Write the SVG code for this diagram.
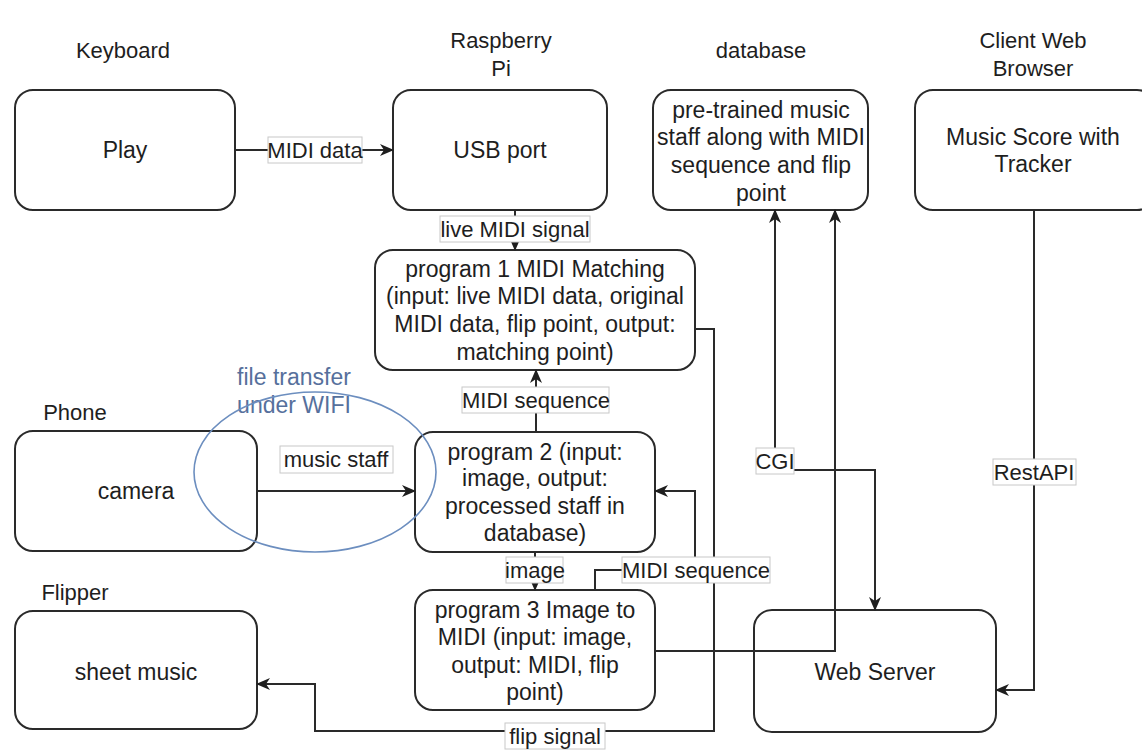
<svg xmlns="http://www.w3.org/2000/svg" width="1142" height="750" viewBox="0 0 1142 750">
<defs>
<style>
.box{fill:#fff;stroke:#2a2a2a;stroke-width:2}
.t{font-family:"Liberation Sans",Arial,sans-serif;font-size:23px;fill:#1e1e1e;text-anchor:middle}
.h{font-family:"Liberation Sans",Arial,sans-serif;font-size:22px;fill:#1e1e1e;text-anchor:middle}
.lb{font-family:"Liberation Sans",Arial,sans-serif;font-size:22px;fill:#1e1e1e;text-anchor:middle}
.lbg{fill:#fff;stroke:#c8c8c8;stroke-width:1}
.e{fill:none;stroke:#2a2a2a;stroke-width:2}
.w{font-family:"Liberation Sans",Arial,sans-serif;font-size:23px;fill:#56709c;text-anchor:middle}
</style>
<marker id="ah" viewBox="0 0 14 12" refX="13" refY="6" markerWidth="14" markerHeight="12" markerUnits="userSpaceOnUse" orient="auto">
<path d="M0,0 L14,6 L0,12 L4,6 z" fill="#1e1e1e"/>
</marker>
<marker id="ahs" viewBox="0 0 14 12" refX="13" refY="6" markerWidth="14" markerHeight="12" markerUnits="userSpaceOnUse" orient="auto-start-reverse">
<path d="M0,0 L14,6 L0,12 L4,6 z" fill="#1e1e1e"/>
</marker>
</defs>
<rect width="1142" height="750" fill="#fff"/>

<g id="headers">
<text class="h" x="123" y="58">Keyboard</text>
<text class="h" x="501" y="48">Raspberry</text>
<text class="h" x="501" y="76">Pi</text>
<text class="h" x="761" y="58">database</text>
<text class="h" x="1033" y="48">Client Web</text>
<text class="h" x="1033" y="76">Browser</text>
<text class="h" x="75" y="420">Phone</text>
<text class="h" x="75" y="600">Flipper</text>
</g>

<g id="node-play">
<rect class="box" x="15" y="90" width="220" height="120" rx="18"/>
<text class="t" x="125" y="158">Play</text>
</g>
<g id="node-usb">
<rect class="box" x="393" y="90" width="214" height="120" rx="18"/>
<text class="t" x="500" y="158">USB port</text>
</g>
<g id="node-db">
<rect class="box" x="653" y="90" width="215" height="120" rx="18"/>
<text class="t" x="761" y="118">pre-trained music</text>
<text class="t" x="761" y="145">staff along with MIDI</text>
<text class="t" x="761" y="173">sequence and flip</text>
<text class="t" x="761" y="201">point</text>
</g>
<g id="node-browser">
<rect class="box" x="915" y="90" width="240" height="120" rx="18"/>
<text class="t" x="1033" y="145">Music Score with</text>
<text class="t" x="1033" y="172">Tracker</text>
</g>
<g id="node-p1">
<rect class="box" x="375" y="250" width="320" height="120" rx="18"/>
<text class="t" x="535" y="277">program 1 MIDI Matching</text>
<text class="t" x="535" y="304">(input: live MIDI data, original</text>
<text class="t" x="535" y="332">MIDI data, flip point, output:</text>
<text class="t" x="535" y="360">matching point)</text>
</g>
<g id="node-camera">
<rect class="box" x="15" y="431" width="242" height="120" rx="18"/>
<text class="t" x="136" y="499">camera</text>
</g>
<g id="node-p2">
<rect class="box" x="415" y="432" width="240" height="120" rx="18"/>
<text class="t" x="535" y="460">program 2 (input:</text>
<text class="t" x="535" y="486">image, output:</text>
<text class="t" x="535" y="514">processed staff in</text>
<text class="t" x="535" y="541">database)</text>
</g>
<g id="node-p3">
<rect class="box" x="415" y="590" width="240" height="120" rx="18"/>
<text class="t" x="535" y="618">program 3 Image to</text>
<text class="t" x="535" y="645">MIDI (input: image,</text>
<text class="t" x="535" y="673">output: MIDI, flip</text>
<text class="t" x="535" y="700">point)</text>
</g>
<g id="node-sheet">
<rect class="box" x="15" y="611" width="242" height="118" rx="18"/>
<text class="t" x="136" y="680">sheet music</text>
</g>
<g id="node-web">
<rect class="box" x="754" y="610" width="242" height="122" rx="18"/>
<text class="t" x="875" y="680">Web Server</text>
</g>

<g id="ellipse-wifi">
<text class="w" x="294" y="385">file transfer</text>
<text class="w" x="294" y="413">under WIFI</text>
<ellipse cx="315" cy="472" rx="121" ry="80" fill="none" stroke="#6c8ebf" stroke-width="1.6"/>
</g>

<g id="connectors">
<path class="e" d="M235,150 H393" marker-end="url(#ah)"/>
<path class="e" d="M515,210 V250" marker-end="url(#ah)"/>
<path class="e" d="M536,432 V370" marker-end="url(#ah)"/>
<path class="e" d="M257,491 H415" marker-end="url(#ah)"/>
<path class="e" d="M535,552 V590" marker-end="url(#ah)"/>
<path class="e" d="M595,590 V570 H695 V491 H655" marker-end="url(#ah)"/>
<path class="e" d="M695,329 H714 V731 H315 V684 H257" marker-end="url(#ah)"/>
<path class="e" d="M655,651 H835 V210" marker-end="url(#ah)"/>
<path class="e" d="M775,210 V470 H875 V610" marker-start="url(#ahs)" marker-end="url(#ah)"/>
<path class="e" d="M1034,210 V690 H996" marker-end="url(#ah)"/>

<rect class="lbg" x="268" y="137" width="94" height="26"/>
<text class="lb" x="315" y="158">MIDI data</text>
<rect class="lbg" x="440" y="216" width="150" height="26"/>
<text class="lb" x="515" y="237">live MIDI signal</text>
<rect class="lbg" x="462" y="387" width="147" height="26"/>
<text class="lb" x="536" y="408">MIDI sequence</text>
<rect class="lbg" x="280" y="446" width="113" height="27"/>
<text class="lb" x="336" y="467">music staff</text>
<rect class="lbg" x="506" y="557" width="57" height="26"/>
<text class="lb" x="535" y="578">image</text>
<rect class="lbg" x="622" y="557" width="148" height="26"/>
<text class="lb" x="696" y="578">MIDI sequence</text>
<rect class="lbg" x="505" y="723" width="100" height="26"/>
<text class="lb" x="555" y="744">flip signal</text>
<rect class="lbg" x="756" y="448" width="38" height="26"/>
<text class="lb" x="775" y="469">CGI</text>
<rect class="lbg" x="993" y="459" width="83" height="26"/>
<text class="lb" x="1034" y="480">RestAPI</text>
</g>
</svg>
